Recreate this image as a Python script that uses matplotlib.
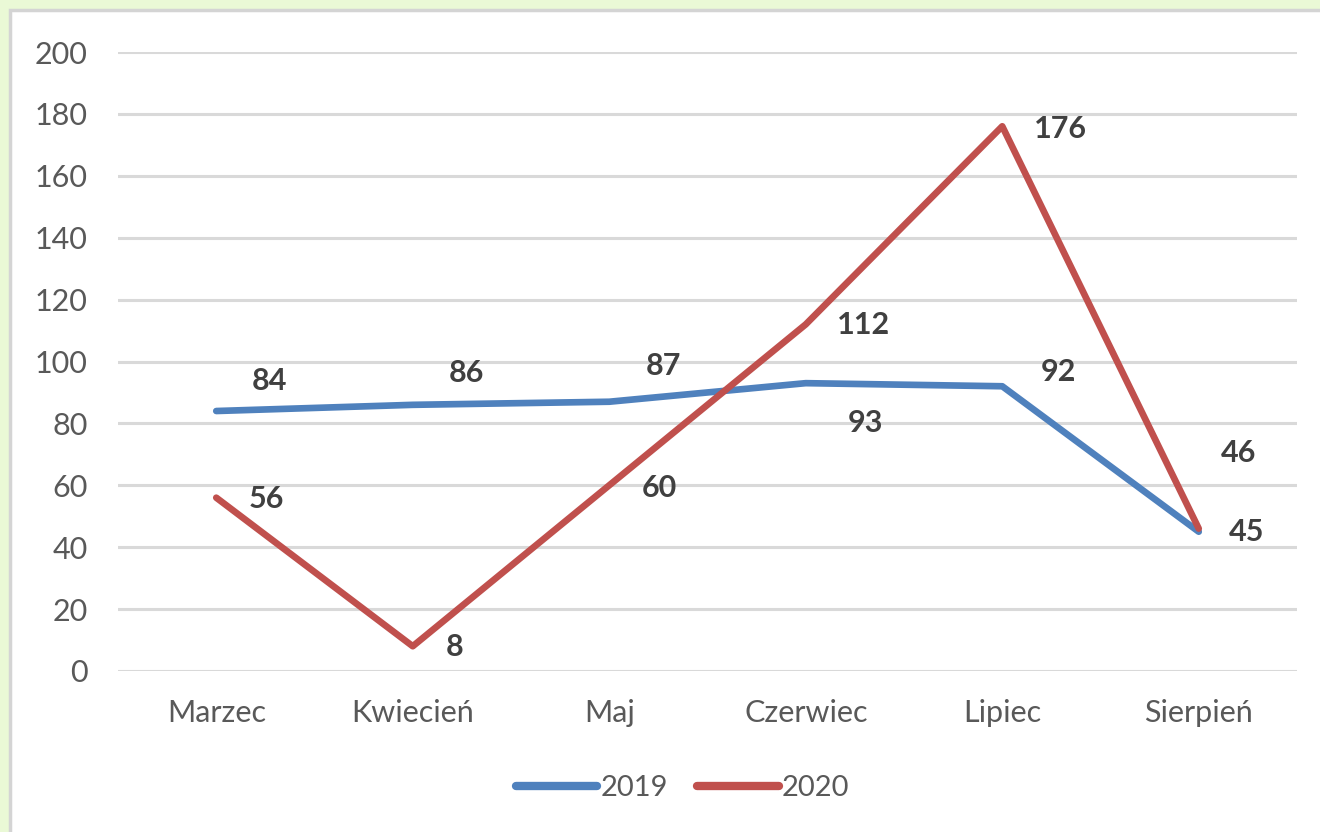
import matplotlib.pyplot as plt
from matplotlib.patches import Rectangle

months = ['Marzec', 'Kwiecień', 'Maj', 'Czerwiec', 'Lipiec', 'Sierpień']
values_2019 = [84, 86, 87, 93, 92, 45]
values_2020 = [56, 8, 60, 112, 176, 46]
y_ticks = [0, 20, 40, 60, 80, 100, 120, 140, 160, 180, 200]

# label offsets in pixels (dx, dy), to mimic Excel's placement
offsets_2019 = [(53, 30), (54, 32), (54, 36), (60, -40), (56, 14), (48, 0)]
offsets_2020 = [(50, -1), (42, -1), (50, -3), (58, -1), (58, -3), (40, 76)]

plt.rcParams['font.family'] = ['Lato', 'DejaVu Sans']

fig = plt.figure(figsize=(13.2, 8.32), dpi=100)
fig.patch.set_facecolor('#EAF9D6')

# white chart box with grey border
fig.patches.append(Rectangle((10 / 1320, -0.01), 1.0, 1 - 10 / 832 + 0.01,
                             transform=fig.transFigure, facecolor='white',
                             edgecolor='#D4D4D4', linewidth=2.5, zorder=-10))

ax = fig.add_axes([118 / 1320, 1 - 671 / 832, (1297 - 118) / 1320, (671 - 52) / 832])
ax.set_facecolor('none')

x = list(range(len(months)))
ax.plot(x, values_2019, color='#4F81BD', linewidth=4.8, label='2019',
        solid_capstyle='round', solid_joinstyle='round', zorder=3)
ax.plot(x, values_2020, color='#C0504D', linewidth=4.8, label='2020',
        solid_capstyle='round', solid_joinstyle='round', zorder=4)

for xi, v, (dx, dy) in zip(x, values_2019, offsets_2019):
    ax.annotate(str(v), (xi, v), xytext=(dx * 0.72, dy * 0.72), textcoords='offset points',
                ha='center', va='center', fontsize=22, fontweight='bold', color='#404040')
for xi, v, (dx, dy) in zip(x, values_2020, offsets_2020):
    ax.annotate(str(v), (xi, v), xytext=(dx * 0.72, dy * 0.72), textcoords='offset points',
                ha='center', va='center', fontsize=22, fontweight='bold', color='#404040')

ax.set_xlim(-0.5, len(months) - 0.5)
ax.set_ylim(0, 200)
ax.set_yticks(y_ticks)
ax.set_xticks(x)
ax.set_xticklabels(months)
ax.grid(axis='y', color='#D9D9D9', linewidth=2.2)
ax.set_axisbelow(True)
for side in ['top', 'right', 'left', 'bottom']:
    ax.spines[side].set_visible(False)
ax.tick_params(axis='both', length=0, labelsize=22, labelcolor='#595959')
ax.tick_params(axis='y', pad=22)
ax.tick_params(axis='x', pad=20)

leg = fig.legend(loc='center', bbox_to_anchor=(0.517, 1 - 788 / 832), ncol=2,
                 frameon=False, fontsize=21, handlelength=2.8, handletextpad=0.1,
                 columnspacing=1.0)
for line in leg.get_lines():
    line.set_linewidth(6)
    line.set_solid_capstyle('round')
for t in leg.get_texts():
    t.set_color('#595959')

fig.savefig('out.png', dpi=100, facecolor=fig.get_facecolor())
